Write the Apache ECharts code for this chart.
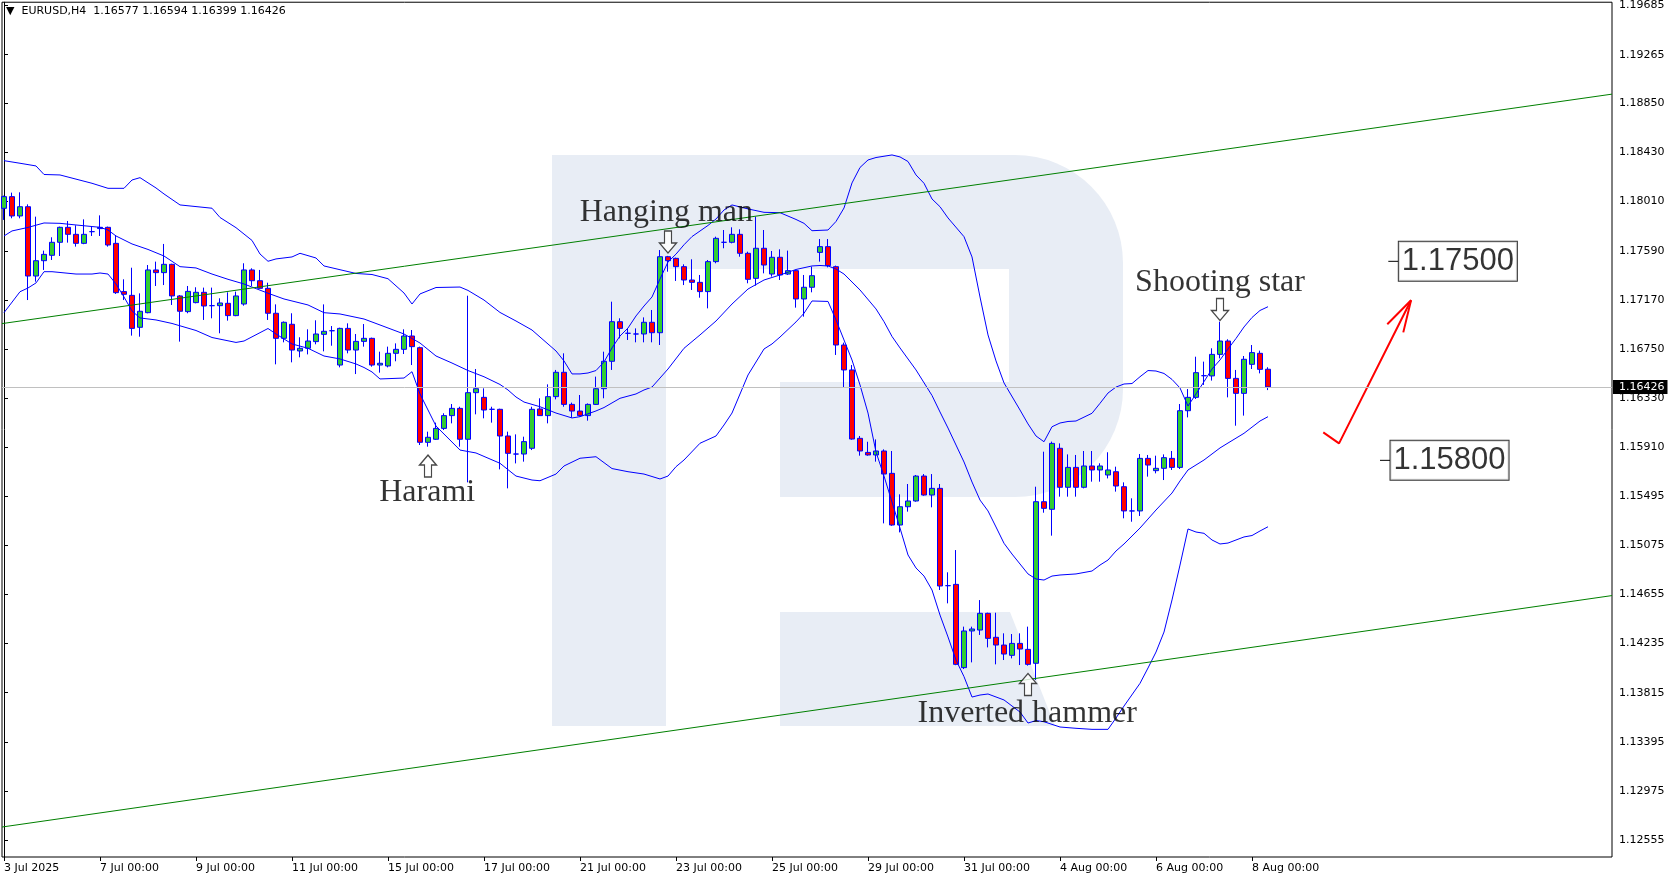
<!DOCTYPE html>
<html><head><meta charset="utf-8">
<script src="https://cdn.jsdelivr.net/npm/echarts@6/dist/echarts.min.js"></script>
<style>html,body{margin:0;padding:0;background:#fff}#chart{width:1676px;height:882px}</style>
</head><body><div id="chart"></div>
<script>
// ---------- data ----------
const symbolName = 'EURUSD,H4';
const tradingDays = ['3 Jul','4 Jul','7 Jul','8 Jul','9 Jul','10 Jul','11 Jul','14 Jul','15 Jul','16 Jul','17 Jul','18 Jul','21 Jul','22 Jul','23 Jul','24 Jul','25 Jul','28 Jul','29 Jul','30 Jul','31 Jul','1 Aug','4 Aug','5 Aug','6 Aug','7 Aug','8 Aug'];
const barHours = ['00:00','04:00','08:00','12:00','16:00','20:00'];
const barCount = 159;
const emptySlots = 43;
const xTickLabels = [[0,'3 Jul 2025'],[12,'7 Jul 00:00'],[24,'9 Jul 00:00'],[36,'11 Jul 00:00'],[48,'15 Jul 00:00'],[60,'17 Jul 00:00'],[72,'21 Jul 00:00'],[84,'23 Jul 00:00'],[96,'25 Jul 00:00'],[108,'29 Jul 00:00'],[120,'31 Jul 00:00'],[132,'4 Aug 00:00'],[144,'6 Aug 00:00'],[156,'8 Aug 00:00']];
const yTickValues = [1.19685,1.19265,1.18850,1.18430,1.18010,1.17590,1.17170,1.16750,1.16330,1.15910,1.15495,1.15075,1.14655,1.14235,1.13815,1.13395,1.12975,1.12555];
const yMin = 1.12412, yMax = 1.19713;

const opens = [1.17951,1.18051,1.17886,1.17965,1.17373,1.17504,1.17550,1.17661,1.17789,1.17729,1.17652,1.17752,1.17778,1.17789,1.17652,1.17240,1.17208,1.16935,1.17060,1.17425,
1.17402,1.17473,1.17203,1.17069,1.17146,1.17234,1.17120,1.17120,1.17140,1.17035,1.17134,1.17425,1.17333,1.17268,1.17055,1.16841,1.16961,1.16733,1.16756,1.16813,
1.16875,1.16906,1.16613,1.16926,1.16741,1.16815,1.16841,1.16613,1.16605,1.16713,1.16747,1.16861,1.16761,1.15953,1.15979,1.16072,1.16181,1.16243,1.15979,1.16377,
1.16337,1.16235,1.16235,1.16007,1.15853,1.15853,1.15902,1.16238,1.16181,1.16343,1.16551,1.16277,1.16220,1.16181,1.16277,1.16411,1.16645,1.16983,1.16884,1.16878,
1.16878,1.16978,1.16889,1.17538,1.17524,1.17453,1.17339,1.17319,1.17240,1.17496,1.17661,1.17661,1.17729,1.17567,1.17353,1.17610,1.17390,1.17533,1.17390,1.17419,
1.17177,1.17277,1.17575,1.17624,1.17453,1.16784,1.16571,1.15987,1.15867,1.15845,1.15879,1.15688,1.15247,1.15403,1.15452,1.15665,1.15503,1.15560,1.14729,1.14740,
1.14029,1.14342,1.14350,1.14493,1.14288,1.14222,1.14134,1.14236,1.14185,1.14066,1.15446,1.15381,1.15902,1.15569,1.15739,1.15569,1.15751,1.15717,1.15674,1.15702,
1.15574,1.15367,1.15367,1.15816,1.15711,1.15731,1.15816,1.15739,1.16223,1.16337,1.16522,1.16520,1.16704,1.16818,1.16499,1.16371,1.16619,1.16713,1.16577];
const highs = [1.18060,1.18085,1.18088,1.17985,1.17880,1.17590,1.17704,1.17795,1.17843,1.17806,1.17857,1.17800,1.17891,1.17795,1.17723,1.17345,1.17444,1.17225,1.17467,1.17496,
1.17647,1.17478,1.17211,1.17288,1.17277,1.17274,1.17274,1.17183,1.17234,1.17240,1.17482,1.17439,1.17425,1.17316,1.17131,1.16985,1.17055,1.16850,1.16918,1.16995,
1.17131,1.16946,1.16932,1.16969,1.16878,1.16963,1.16847,1.16727,1.16770,1.16798,1.16918,1.16912,1.16770,1.16044,1.16121,1.16201,1.16280,1.16257,1.17205,1.16579,
1.16414,1.16257,1.16240,1.16044,1.16021,1.16001,1.16257,1.16329,1.16448,1.16571,1.16713,1.16292,1.16357,1.16285,1.16514,1.16727,1.17154,1.17012,1.16926,1.16926,
1.17020,1.17083,1.17595,1.17545,1.17530,1.17473,1.17516,1.17382,1.17510,1.17709,1.17766,1.17789,1.17772,1.17581,1.17880,1.17766,1.17587,1.17601,1.17590,1.17425,
1.17382,1.17453,1.17689,1.17689,1.17462,1.16804,1.16613,1.16007,1.15958,1.15978,1.15893,1.15879,1.15509,1.15597,1.15674,1.15682,1.15682,1.15597,1.14843,1.15033,
1.14379,1.14379,1.14606,1.14498,1.14498,1.14322,1.14316,1.14322,1.14379,1.15574,1.15873,1.15959,1.15944,1.15850,1.15845,1.15879,1.15879,1.15774,1.15868,1.15745,
1.15611,1.15475,1.15853,1.15845,1.15839,1.15850,1.15879,1.16280,1.16408,1.16684,1.16642,1.16756,1.16983,1.16833,1.16571,1.16690,1.16784,1.16736,1.16594];
const lows = [1.17852,1.17866,1.17866,1.17168,1.17325,1.17425,1.17510,1.17544,1.17658,1.17624,1.17645,1.17715,1.17715,1.17624,1.17220,1.17168,1.16864,1.16855,1.17055,1.17288,
1.17296,1.17126,1.16813,1.17055,1.17140,1.16998,1.17012,1.16884,1.16992,1.17030,1.17120,1.17288,1.17265,1.16998,1.16619,1.16807,1.16636,1.16679,1.16704,1.16790,
1.16730,1.16778,1.16593,1.16713,1.16536,1.16770,1.16599,1.16548,1.16593,1.16645,1.16707,1.16613,1.15930,1.15916,1.15973,1.16058,1.16115,1.15916,1.15611,1.16192,
1.16158,1.16121,1.15722,1.15560,1.15773,1.15788,1.15887,1.16178,1.16115,1.16320,1.16257,1.16163,1.16172,1.16138,1.16272,1.16329,1.16571,1.16841,1.16827,1.16807,
1.16807,1.16807,1.16784,1.17410,1.17331,1.17296,1.17254,1.17188,1.17097,1.17482,1.17610,1.17652,1.17538,1.17311,1.17291,1.17396,1.17368,1.17339,1.17382,1.17103,
1.17026,1.17234,1.17496,1.17447,1.16699,1.16423,1.15975,1.15839,1.15839,1.15788,1.15261,1.15240,1.15184,1.15361,1.15446,1.15497,1.15398,1.14692,1.14578,1.14050,
1.14017,1.14074,1.14308,1.14202,1.14057,1.14094,1.14108,1.14051,1.14046,1.13923,1.15352,1.15156,1.15489,1.15489,1.15489,1.15560,1.15617,1.15617,1.15645,1.15532,
1.15304,1.15275,1.15324,1.15660,1.15688,1.15631,1.15717,1.15725,1.16166,1.16323,1.16443,1.16480,1.16670,1.16337,1.16095,1.16181,1.16579,1.16542,1.16399];
const closes = [1.18051,1.17886,1.17965,1.17373,1.17504,1.17558,1.17661,1.17789,1.17729,1.17652,1.17729,1.17752,1.17789,1.17638,1.17231,1.17217,1.16926,1.17072,1.17425,1.17402,
1.17473,1.17203,1.17072,1.17242,1.17234,1.17117,1.17120,1.17143,1.17035,1.17203,1.17425,1.17333,1.17268,1.17055,1.16841,1.16978,1.16741,1.16756,1.16818,1.16878,
1.16901,1.16906,1.16926,1.16741,1.16815,1.16841,1.16613,1.16628,1.16713,1.16747,1.16861,1.16770,1.15953,1.15996,1.16072,1.16181,1.16243,1.15979,1.16377,1.16411,
1.16229,1.16235,1.16007,1.15859,1.15853,1.15959,1.16235,1.16181,1.16343,1.16551,1.16277,1.16220,1.16181,1.16277,1.16411,1.16645,1.16983,1.16926,1.16884,1.16878,
1.16978,1.16889,1.17538,1.17504,1.17453,1.17339,1.17319,1.17240,1.17496,1.17695,1.17661,1.17729,1.17567,1.17345,1.17610,1.17467,1.17533,1.17382,1.17419,1.17177,
1.17277,1.17376,1.17624,1.17462,1.16784,1.16571,1.15981,1.15879,1.15845,1.15879,1.15682,1.15247,1.15403,1.15452,1.15665,1.15503,1.15560,1.14726,1.14729,1.14057,
1.14342,1.14359,1.14493,1.14279,1.14222,1.14145,1.14236,1.14188,1.14057,1.15446,1.15389,1.15944,1.15569,1.15739,1.15569,1.15751,1.15717,1.15751,1.15717,1.15580,
1.15367,1.15367,1.15816,1.15759,1.15731,1.15822,1.15739,1.16223,1.16337,1.16548,1.16522,1.16704,1.16818,1.16499,1.16371,1.16662,1.16719,1.16576,1.16426];

const bbUpper = [[0,1.18358],[2,1.18336],[4,1.18313],[5,1.18240],[7,1.18236],[11,1.18165],[13,1.18122],[15,1.18122],[16,1.18193],[17,1.18213],[19,1.18125],[20,1.18074],[22,1.17980],[26,1.17952],[27,1.17873],[29,1.17786],[31,1.17677],[32,1.17561],[33,1.17499],[34,1.17519],[36,1.17536],[37,1.17567],[39,1.17527],[40,1.17459],[44,1.17395],[46,1.17386],[48,1.17350],[50,1.17228],[51,1.17134],[52,1.17220],[54,1.17275],[57,1.17279],[58,1.17250],[60,1.17168],[62,1.17062],[64,1.16989],[66,1.16912],[67,1.16852],[69,1.16733],[70,1.16648],[71,1.16537],[72,1.16537],[73,1.16545],[74,1.16566],[75,1.16639],[76,1.16759],[77,1.16861],[78,1.16929],[79,1.17032],[80,1.17117],[81,1.17194],[82,1.17348],[83,1.17493],[84,1.17560],[85,1.17640],[86,1.17710],[88,1.17805],[89,1.17860],[90,1.17937],[91,1.17980],[93,1.17946],[95,1.17917],[97,1.17914],[99,1.17856],[100,1.17823],[101,1.17760],[103,1.17766],[104,1.17839],[105,1.17954],[106,1.18168],[107,1.18300],[108,1.18364],[109,1.18385],[111,1.18407],[112,1.18390],[113,1.18351],[114,1.18236],[115,1.18165],[116,1.18031],[117,1.17965],[118,1.17869],[120,1.17709],[121,1.17536],[122,1.17194],[123,1.16870],[124,1.16648],[125,1.16460],[127,1.16229],[128,1.16110],[129,1.16007],[130,1.15958],[131,1.16086],[132,1.16118],[133,1.16131],[134,1.16135],[136,1.16201],[137,1.16286],[138,1.16374],[139,1.16425],[140,1.16451],[141,1.16455],[142,1.16513],[143,1.16566],[144,1.16562],[145,1.16541],[146,1.16490],[147,1.16417],[148,1.16263],[149,1.16366],[150,1.16471],[151,1.16579],[152,1.16656],[153,1.16750],[154,1.16840],[155,1.16938],[156,1.17019],[157,1.17079],[158,1.17111]];
const bbMiddle = [[0,1.17715],[1,1.17758],[3,1.17788],[5,1.17826],[7,1.17823],[9,1.17809],[12,1.17789],[13,1.17766],[14,1.17715],[16,1.17647],[18,1.17600],[20,1.17544],[22,1.17453],[24,1.17442],[26,1.17390],[28,1.17345],[30,1.17305],[33,1.17226],[35,1.17177],[38,1.17126],[40,1.17060],[42,1.17049],[45,1.17006],[47,1.16955],[50,1.16878],[52,1.16801],[54,1.16690],[56,1.16630],[58,1.16566],[60,1.16513],[62,1.16447],[63,1.16400],[64,1.16340],[65,1.16297],[67,1.16257],[69,1.16203],[71,1.16161],[72,1.16172],[74,1.16221],[75,1.16250],[77,1.16329],[79,1.16366],[80,1.16400],[81,1.16425],[83,1.16579],[85,1.16756],[87,1.16870],[89,1.16989],[91,1.17134],[93,1.17262],[95,1.17339],[97,1.17382],[99,1.17429],[101,1.17459],[102,1.17463],[103,1.17459],[104,1.17433],[105,1.17390],[107,1.17254],[109,1.17092],[110,1.16983],[111,1.16857],[112,1.16759],[114,1.16571],[116,1.16353],[117,1.16212],[118,1.16075],[119,1.15930],[120,1.15785],[121,1.15614],[122,1.15460],[123,1.15367],[124,1.15230],[125,1.15091],[126,1.14999],[128,1.14829],[129,1.14786],[130,1.14777],[131,1.14811],[132,1.14820],[134,1.14829],[136,1.14854],[137,1.14905],[138,1.14948],[139,1.15025],[140,1.15085],[142,1.15221],[144,1.15375],[146,1.15520],[147,1.15623],[148,1.15717],[150,1.15802],[152,1.15905],[153,1.15947],[155,1.16030],[157,1.16135],[158,1.16172]];
const bbLower = [[0,1.17060],[2,1.17239],[3,1.17271],[4,1.17314],[5,1.17410],[6,1.17410],[9,1.17390],[11,1.17390],[12,1.17399],[13,1.17390],[14,1.17305],[15,1.17194],[16,1.17075],[17,1.17015],[19,1.16998],[21,1.16968],[24,1.16908],[26,1.16848],[29,1.16806],[30,1.16818],[33,1.16925],[34,1.16878],[36,1.16793],[38,1.16756],[40,1.16690],[42,1.16665],[44,1.16622],[45,1.16592],[46,1.16554],[47,1.16494],[50,1.16502],[51,1.16556],[52,1.16366],[54,1.16092],[57,1.15887],[59,1.15862],[62,1.15774],[64,1.15665],[66,1.15631],[67,1.15625],[69,1.15682],[70,1.15751],[72,1.15817],[74,1.15830],[76,1.15729],[78,1.15702],[80,1.15682],[82,1.15640],[83,1.15665],[84,1.15745],[85,1.15802],[87,1.15945],[89,1.16007],[90,1.16101],[91,1.16203],[93,1.16528],[95,1.16750],[96,1.16793],[97,1.16852],[99,1.16981],[100,1.17055],[101,1.17160],[103,1.17156],[104,1.16998],[105,1.16827],[106,1.16656],[107,1.16443],[108,1.16203],[109,1.15870],[110,1.15665],[111,1.15443],[112,1.15221],[113,1.14991],[114,1.14880],[115,1.14811],[116,1.14692],[117,1.14478],[118,1.14291],[119,1.14094],[120,1.13952],[121,1.13778],[122,1.13795],[123,1.13804],[125,1.13753],[127,1.13650],[128,1.13556],[129,1.13577],[130,1.13567],[132,1.13522],[134,1.13511],[136,1.13502],[138,1.13502],[139,1.13599],[140,1.13701],[142,1.13895],[143,1.14026],[144,1.14162],[145,1.14333],[146,1.14607],[147,1.14905],[148,1.15213],[149,1.15187],[150,1.15176],[151,1.15119],[152,1.15085],[153,1.15093],[155,1.15145],[156,1.15157],[157,1.15196],[158,1.15232]];

// channel lines: price at left plot edge and at right plot edge
const channelUpper = [1.16968, 1.18928];
const channelLower = [1.12668, 1.14645];

const patternNames = ['Harami','Hanging man','Inverted hammer','Shooting star'];
const patternBars = [53, 83, 128, 152];
const patternArrowDir = ['up','down','up','down'];
const patternArrowPrices = [1.15751, 1.17664, 1.13885, 1.17089];
const patternTextPrices = [1.15527, 1.17914, 1.13639, 1.17322];
const patternTextBars = [52.9, 82.8, 127.9, 152.0];

const targetLevels = [1.17500, 1.15800];
const forecastPath = [[164.91,1.16039],[166.88,1.15945],[175.88,1.17168]];
const forecastHead = [[172.91,1.16963],[175.88,1.17168],[174.91,1.16893]];

// ---------- layout (not data) ----------
const targetBoxBar = [174.29, 173.25];
const targetTickBar = [173.04, 172.0];
const xValMin = -0.25, xValMax = 201;

// ---------- build ----------
const categories = [];
for (const d of tradingDays) for (const h of barHours) if (categories.length < barCount) categories.push(d + ' ' + h);
for (let i = 0; i < emptySlots; i++) categories.push('slot' + i);
const tickMap = new Map(xTickLabels);
const candles = opens.map((o, i) => [o, closes[i], lows[i], highs[i]]);
const last = barCount - 1;
const lastClose = closes[last];
const header = '\u25BC  ' + symbolName + '  ' + [opens[last], highs[last], lows[last], closes[last]].map(v => v.toFixed(5)).join(' ');

const wm = '#e8edf5';
const arrowPath = 'path://M5,0L12,0L12,12L17,12L8.5,22L0,12L5,12Z';

const series = [
  {type:'candlestick', xAxisIndex:0, yAxisIndex:0, data:candles, barWidth:5, z:2,
   itemStyle:{color:'#32cd32', color0:'#ff0000', borderColor:'#0000ff', borderColor0:'#0000ff', borderColorDoji:'#0000ff', borderWidth:1}},
  ...[bbUpper, bbMiddle, bbLower].map(d => ({type:'line', xAxisIndex:0, yAxisIndex:0, data:d, symbol:'none', z:3,
    lineStyle:{color:'#0000ff', width:1}})),
  {type:'line', xAxisIndex:1, yAxisIndex:1, data:[], symbol:'none', z:1,
   markLine:{symbol:'none', silent:true, animation:false, precision:5, data:[{yAxis:lastClose}],
     lineStyle:{color:'#c0c0c0', width:1, type:'solid'},
     label:{show:true, position:'end', distance:1, formatter:lastClose.toFixed(5), backgroundColor:'#000', color:'#fff',
       padding:[1,3,1,6], fontFamily:'DejaVu Sans', fontSize:11, lineHeight:12}}},
  {type:'line', xAxisIndex:1, yAxisIndex:1, data:[[xValMin, channelUpper[0]],[xValMax, channelUpper[1]]], symbol:'none', z:3,
   lineStyle:{color:'#008000', width:1}},
  {type:'line', xAxisIndex:1, yAxisIndex:1, data:[[xValMin, channelLower[0]],[xValMax, channelLower[1]]], symbol:'none', z:3,
   lineStyle:{color:'#008000', width:1}},
  {type:'line', xAxisIndex:1, yAxisIndex:1, data:forecastPath, symbol:'none', z:4, lineStyle:{color:'#ff0000', width:2}},
  {type:'line', xAxisIndex:1, yAxisIndex:1, data:forecastHead, symbol:'none', z:4, lineStyle:{color:'#ff0000', width:2}},
  ...targetLevels.map((lv, k) => ({type:'line', xAxisIndex:1, yAxisIndex:1, data:[[targetTickBar[k], lv],[targetBoxBar[k], lv]],
    symbol:'none', z:4, lineStyle:{color:'#000', width:1}})),
  {type:'scatter', xAxisIndex:1, yAxisIndex:1, z:5, symbol:'circle', symbolSize:1, itemStyle:{color:'rgba(0,0,0,0)'},
   data:targetLevels.map((lv, k) => [targetBoxBar[k], lv]),
   label:{show:true, position:'right', distance:0, formatter:p => p.value[1].toFixed(5),
     fontFamily:'Liberation Sans', fontSize:31, lineHeight:32, color:'#000', backgroundColor:'#fff',
     borderColor:'#000', borderWidth:1, padding:[4,3,3,3]}},
  {type:'scatter', xAxisIndex:1, yAxisIndex:1, z:5, symbol:'circle', symbolSize:1, itemStyle:{color:'rgba(0,0,0,0)'},
   data:patternNames.map((n, k) => ({name:n, value:[patternTextBars[k], patternTextPrices[k]]})),
   label:{show:true, position:'inside', formatter:p => p.name, fontFamily:'Liberation Serif', fontSize:32, color:'#000'}},
  {type:'scatter', xAxisIndex:1, yAxisIndex:1, z:5, symbol:arrowPath, symbolSize:[17,22],
   itemStyle:{color:'#fff', borderColor:'#1a1a1a', borderWidth:1.3},
   data:patternBars.map((b, k) => ({value:[b, patternArrowPrices[k]], symbolRotate: patternArrowDir[k] === 'up' ? 180 : 0}))}
];

const chart = echarts.init(document.getElementById('chart'), null, {renderer:'canvas'});
chart.setOption({
  animation:false,
  backgroundColor:'#fff',
  title:{text:header, left:6, top:6, padding:0, textStyle:{fontFamily:'DejaVu Sans', fontSize:11, fontWeight:'normal', color:'#000'}},
  graphic:[
    {type:'rect', z:0, silent:true, shape:{x:552, y:155, width:114, height:571}, style:{fill:wm}},
    {type:'rect', z:0, silent:true, shape:{x:666, y:155, width:350, height:114}, style:{fill:wm}},
    {type:'rect', z:0, silent:true, shape:{x:1009, y:155, width:114, height:342, r:[0,108,108,0]}, style:{fill:wm}},
    {type:'rect', z:0, silent:true, shape:{x:780, y:382, width:236, height:115}, style:{fill:wm}},
    {type:'polygon', z:0, silent:true, shape:{points:[[780,612],[1010,612],[1055,726],[780,726]]}, style:{fill:wm}}
  ],
  grid:[
    {left:0, right:60, top:2, bottom:25, show:false},
    {left:2, right:64, top:2, bottom:25, show:true, borderColor:'#000', borderWidth:1, backgroundColor:'transparent'}
  ],
  xAxis:[
    {type:'category', gridIndex:0, data:categories, boundaryGap:true,
     axisLine:{show:false},
     axisTick:{show:true, alignWithLabel:true, interval:(i) => tickMap.has(i), length:4, lineStyle:{color:'#000'}},
     axisLabel:{show:true, interval:(i) => tickMap.has(i), formatter:(v, i) => tickMap.get(i) || '', align:'left', margin:6,
       color:'#000', fontFamily:'DejaVu Sans', fontSize:11},
     splitLine:{show:false}},
    {type:'value', gridIndex:1, min:xValMin, max:xValMax, show:false}
  ],
  yAxis:[
    {type:'value', gridIndex:0, min:yMin, max:yMax, show:false},
    {type:'value', gridIndex:1, min:yMin, max:yMax, position:'right',
     axisLine:{show:true, lineStyle:{color:'#000'}},
     axisTick:{show:true, customValues:yTickValues, length:4, lineStyle:{color:'#000'}},
     axisLabel:{show:true, customValues:yTickValues, formatter:v => Number(v).toFixed(5), margin:7, color:'#000',
       fontFamily:'DejaVu Sans', fontSize:11},
     splitLine:{show:false}}
  ],
  series
});
</script></body></html>
